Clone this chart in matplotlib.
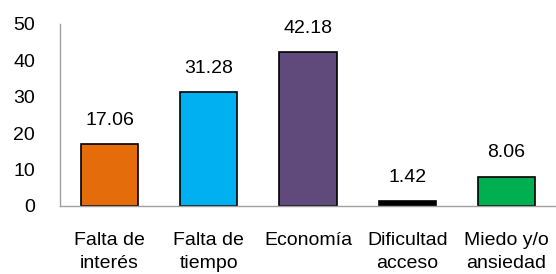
import matplotlib
matplotlib.use("Agg")
import matplotlib.pyplot as plt

# data
categories = ["Falta de\ninterés", "Falta de\ntiempo", "Economía", "Dificultad\nacceso", "Miedo y/o\nansiedad"]
values = [17.06, 31.28, 42.18, 1.42, 8.06]
colors = ["#E46C0A", "#00B0F0", "#604A7B", "#000000", "#00B050"]
y_ticks = [0, 10, 20, 30, 40, 50]

plt.rcParams["font.family"] = ["Liberation Sans", "DejaVu Sans"]

fig = plt.figure(figsize=(5.56, 2.74), dpi=100)
ax = fig.add_axes([60 / 556, 1 - 206 / 274, 496 / 556, 182 / 274])

x = range(len(categories))
bars = ax.bar(x, values, width=0.575, color=colors, edgecolor="black", linewidth=1.2)

for b, v in zip(bars, values):
    ax.annotate(f"{v:.2f}", (b.get_x() + b.get_width() / 2, v),
                xytext=(0, 11), textcoords="offset points",
                ha="center", va="bottom", fontsize=14)

ax.set_xlim(-0.5, 4.5)
ax.set_ylim(0, 50)
ax.set_yticks(y_ticks)
ax.set_xticks(list(x))
ax.set_xticklabels(categories, fontsize=14, linespacing=1.4)
ax.tick_params(axis="y", length=0, pad=18, labelsize=14)
ax.tick_params(axis="x", length=0, pad=19)

for s in ("top", "right"):
    ax.spines[s].set_visible(False)
for s in ("left", "bottom"):
    ax.spines[s].set_color("#A0A0A0")
    ax.spines[s].set_linewidth(1.0)

fig.savefig("out.png", dpi=100)
